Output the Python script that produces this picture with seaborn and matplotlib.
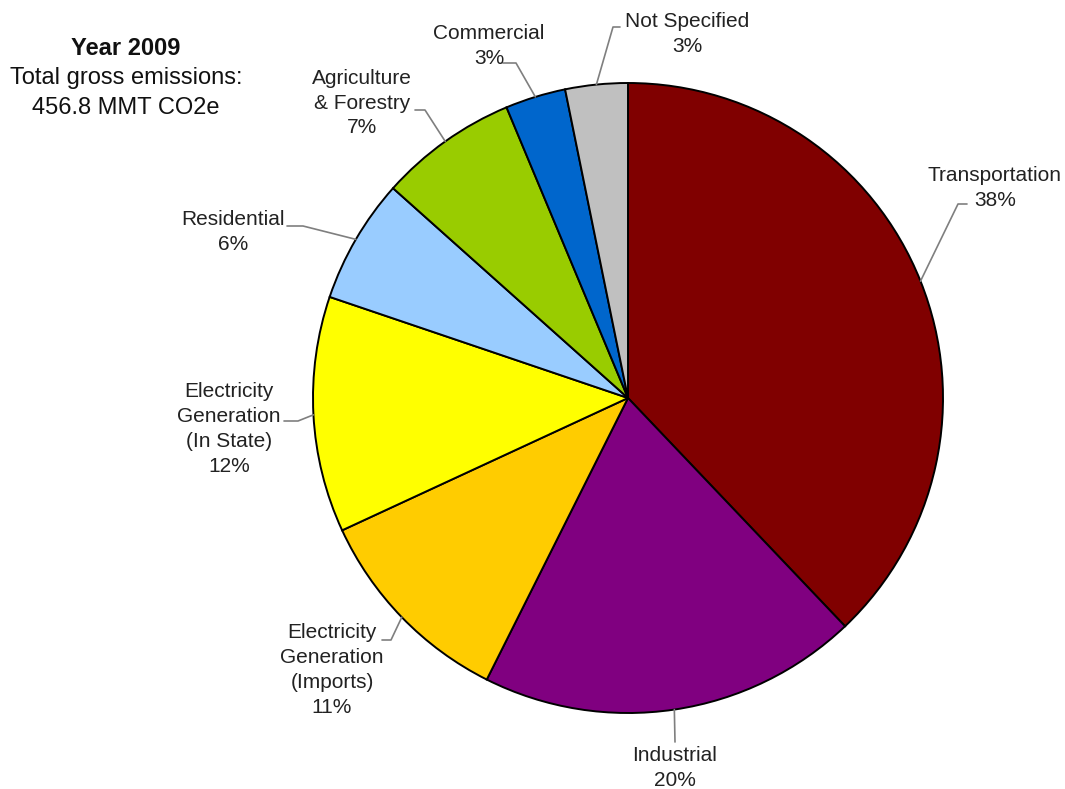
import numpy as np
import matplotlib
matplotlib.use("Agg")
import matplotlib.pyplot as plt
import seaborn as sns

# 2009 gross emissions by sector (percent of 456.8 MMT CO2e)
sectors = ["Transportation", "Industrial", "Electricity\nGeneration\n(Imports)",
           "Electricity\nGeneration\n(In State)", "Residential",
           "Agriculture\n& Forestry", "Commercial", "Not Specified"]
shares = [37.9, 19.5, 10.7, 12.1, 6.4, 7.1, 3.1, 3.2]
share_labels = ["38%", "20%", "11%", "12%", "6%", "7%", "3%", "3%"]
colors = ["#800000", "#800080", "#FFCC00", "#FFFF00",
          "#99CCFF", "#99CC00", "#0066CC", "#C0C0C0"]

# label layout in pixels (text centre, elbow of leader, end of leader next to text)
W, H = 1065, 789
label_layout = [
    ((995, 188), (958, 204), (967, 204)),
    ((675, 768), (675, 742), (675, 742)),
    ((332, 670), (391, 640), (382, 640)),
    ((229, 429), (298, 421), (284, 421)),
    ((233, 232), (303, 226), (287, 226)),
    ((362, 103), (425, 110), (415, 110)),
    ((489, 46), (516, 63), (503, 63)),
    ((687, 34), (613, 27), (620, 27)),
]
cx, cy, r = 628, 398, 315

sns.set_theme(style="white")
plt.rcParams["font.family"] = ["Liberation Sans", "DejaVu Sans"]

fig = plt.figure(figsize=(W / 100, H / 100), dpi=100)
ax = fig.add_axes([0, 0, 1, 1])

wedges, _ = ax.pie(shares, colors=colors, startangle=90, counterclock=False,
                   center=(cx, H - cy), radius=r, frame=True,
                   wedgeprops=dict(edgecolor="black", linewidth=1.4))
ax.set_xlim(0, W)
ax.set_ylim(0, H)
ax.set_aspect("equal")
ax.axis("off")

for w, name, pct, (txt, elbow, end) in zip(wedges, sectors, share_labels, label_layout):
    mid = np.deg2rad((w.theta1 + w.theta2) / 2)
    ex = cx + r * np.cos(mid)
    ey = (H - cy) + r * np.sin(mid)
    ax.plot([ex, elbow[0], end[0]], [ey, H - elbow[1], H - end[1]],
            color="#7f7f7f", linewidth=1.2)
    ax.text(txt[0], H - txt[1], name + "\n" + pct, ha="center", va="center",
            fontsize=15, color="#222222", linespacing=1.38)

ax.text(126, H - 48, "Year 2009", ha="center", va="center",
        fontsize=17, fontweight="bold", color="#111111")
ax.text(126, H - 93, "Total gross emissions:\n456.8 MMT CO2e", ha="center",
        va="center", fontsize=17, color="#111111", linespacing=1.42)

fig.savefig("out.png", dpi=100, facecolor="white")
